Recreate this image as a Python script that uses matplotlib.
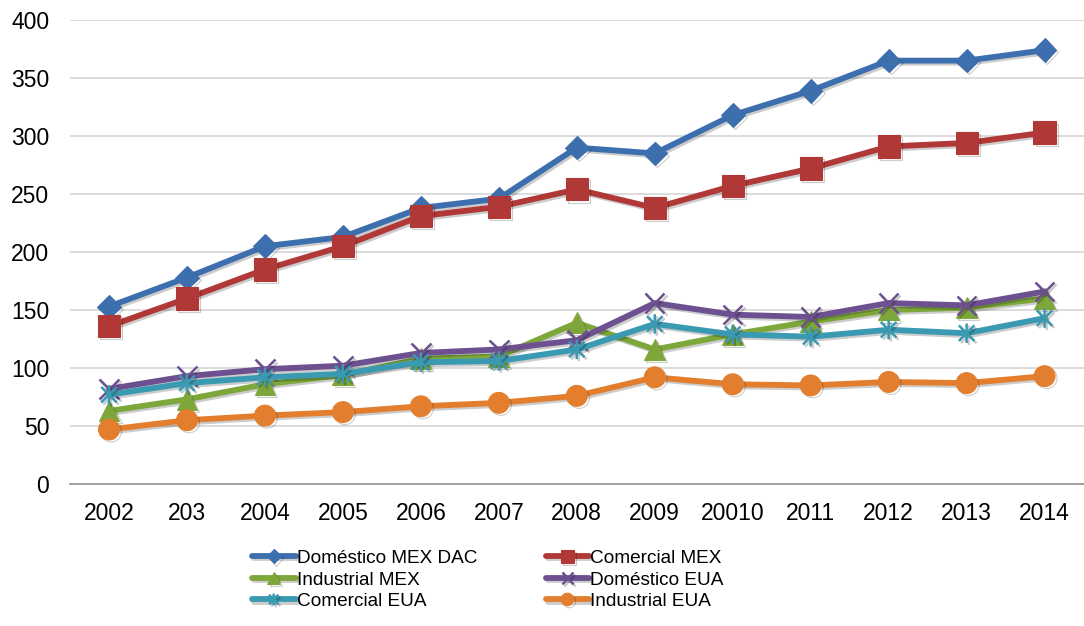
import matplotlib
matplotlib.use("Agg")
import matplotlib.pyplot as plt
from matplotlib.path import Path
import matplotlib.patheffects as pe

years = ["2002", "203", "2004", "2005", "2006", "2007", "2008",
         "2009", "20010", "2011", "2012", "2013", "2014"]

domestico_mex_dac = [153, 178, 205, 213, 238, 246, 290, 285, 318, 339, 365, 365, 374]
comercial_mex = [136, 160, 185, 205, 231, 239, 254, 238, 257, 272, 291, 294, 303]
industrial_mex = [63, 73, 86, 94, 108, 110, 139, 116, 129, 140, 150, 152, 160]
domestico_eua = [82, 93, 99, 102, 113, 116, 124, 156, 146, 144, 156, 154, 166]
comercial_eua = [77, 87, 92, 95, 105, 106, 116, 138, 129, 127, 133, 130, 143]
industrial_eua = [47, 55, 59, 62, 67, 70, 76, 92, 86, 85, 88, 87, 93]

# asterisk marker: vertical stroke plus both diagonals
asterisk = Path(
    [(0, -1), (0, 1), (-0.8, -0.8), (0.8, 0.8), (-0.8, 0.8), (0.8, -0.8)],
    [Path.MOVETO, Path.LINETO, Path.MOVETO, Path.LINETO, Path.MOVETO, Path.LINETO],
)

series = [
    ("Doméstico MEX DAC", domestico_mex_dac, "#3D6FAE", "D", 12, None),
    ("Comercial MEX", comercial_mex, "#B03837", "s", 16, None),
    ("Industrial MEX", industrial_mex, "#7EA73B", "^", 15, None),
    ("Doméstico EUA", domestico_eua, "#6D5090", "x", 14, 1.8),
    ("Comercial EUA", comercial_eua, "#3A9AB2", asterisk, 14, 1.8),
    ("Industrial EUA", industrial_eua, "#E27E2D", "o", 15, None),
]

plt.rcParams["font.family"] = ["Liberation Sans", "DejaVu Sans"]

fig = plt.figure(figsize=(10.84, 6.26), dpi=100)
ax = fig.add_axes([0.0646, 0.2268, 0.935, 0.7412])

x = list(range(len(years)))
shadow = [pe.SimpleLineShadow(offset=(1.5, -1.5), alpha=0.2, shadow_color="black"),
          pe.Normal()]

for label, vals, color, marker, ms, mew in series:
    ax.plot(x, vals, color=color, linewidth=4.2, marker=marker, markersize=ms,
            markerfacecolor=color, markeredgecolor=color, label=label,
            markeredgewidth=mew if mew is not None else 0.8,
            solid_joinstyle="round", solid_capstyle="round",
            path_effects=shadow)

ax.set_xlim(-0.5, len(years) - 0.5)
ax.set_ylim(0, 400)
ax.set_yticks(range(0, 401, 50))
ax.set_xticks(x)
ax.set_xticklabels(years)
ax.tick_params(axis="both", length=0, labelsize=16.5, colors="black")
ax.tick_params(axis="x", pad=13)
ax.tick_params(axis="y", pad=15)

ax.grid(axis="y", color="#D9D9D9", linewidth=1.3)
ax.set_axisbelow(True)
for side in ("left", "right", "top"):
    ax.spines[side].set_visible(False)
ax.spines["bottom"].set_color("#9A9A9A")
ax.spines["bottom"].set_linewidth(1.3)

# legend filled row by row: two columns, three rows
handles, labels = ax.get_legend_handles_labels()
order = [0, 2, 4, 1, 3, 5]
fig.legend([handles[i] for i in order], [labels[i] for i in order],
           ncol=2, loc="upper left",
           bbox_to_anchor=(0.2235, 0.137), frameon=False, fontsize=13.7,
           handlelength=2.3, handletextpad=0.05, labelspacing=0.22,
           columnspacing=3.6, borderpad=0, markerscale=0.6)

fig.savefig("out.png", dpi=100, facecolor="white")
